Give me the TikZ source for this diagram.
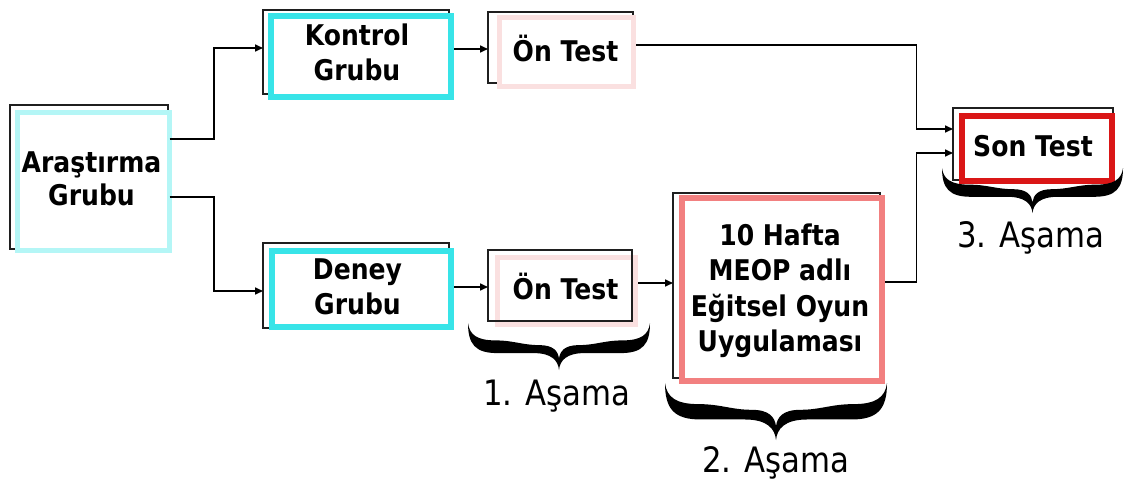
\documentclass[tikz,border=0pt]{standalone}
\usepackage{fontspec}
\setmainfont{DejaVu Sans}[FakeStretch=0.88]
\usetikzlibrary{arrows.meta,calc}

\definecolor{palecyan}{RGB}{180,246,246}
\definecolor{brightcyan}{RGB}{56,228,232}
\definecolor{palepink}{RGB}{250,224,224}
\definecolor{lightcoral}{RGB}{242,128,128}
\definecolor{strongred}{RGB}{218,22,22}

\tikzset{
  backbox/.style={draw=black!88, line width=1.3pt, fill=white, inner sep=0pt, outer sep=0pt},
  frontbox/.style={draw=#1, line width=5.5pt, fill=white, inner sep=0pt, outer sep=0pt},
  boxtext/.style={align=center, inner sep=0pt, font=\bfseries\fontsize{28.5}{35}\selectfont},
  conn/.style={line width=1.6pt, -{Triangle[length=8pt,width=7pt]}},
  stage/.style={font=\fontsize{35}{40}\selectfont, anchor=base, inner sep=0pt}
}

% filled curly brace opening downwards: x-left, x-right, top y, height
\newcommand\stagebrace[4]{%
  \pgfmathsetmacro\bxa{#1}\pgfmathsetmacro\bxb{#2}%
  \pgfmathsetmacro\byt{#3}\pgfmathsetmacro\bh{#4}%
  \pgfmathsetmacro\bw{\bxb-\bxa}\pgfmathsetmacro\bm{(\bxa+\bxb)/2}%
  \pgfmathsetmacro\byo{\byt+0.64*\bh}% lower edge of the arms
  \pgfmathsetmacro\byi{\byt+0.37*\bh}% upper edge near the curls
  \pgfmathsetmacro\byc{\byt+0.47*\bh}% upper edge near the middle
  \fill (\bxa,\byt)
    .. controls (\bxa,\byt+0.45*\bh) and (\bxa+0.04*\bw,\byo) .. (\bxa+0.16*\bw,\byo)
    -- (\bm-0.14*\bw,\byo)
    .. controls (\bm-0.04*\bw,\byo) and (\bm-0.005*\bw,\byt+0.8*\bh) .. (\bm,\byt+\bh)
    .. controls (\bm+0.005*\bw,\byt+0.8*\bh) and (\bm+0.04*\bw,\byo) .. (\bm+0.14*\bw,\byo)
    -- (\bxb-0.16*\bw,\byo)
    .. controls (\bxb-0.04*\bw,\byo) and (\bxb,\byt+0.45*\bh) .. (\bxb,\byt)
    .. controls (\bxb-0.008*\bw,\byt+0.25*\bh) and (\bxb-0.05*\bw,\byi) .. (\bxb-0.15*\bw,\byi)
    .. controls (\bxb-0.25*\bw,\byi) and (\bm+0.2*\bw,\byc) .. (\bm+0.11*\bw,\byc)
    .. controls (\bm+0.03*\bw,\byc) and (\bm+0.005*\bw,\byt+0.6*\bh) .. (\bm,\byt+0.76*\bh)
    .. controls (\bm-0.005*\bw,\byt+0.6*\bh) and (\bm-0.03*\bw,\byc) .. (\bm-0.11*\bw,\byc)
    .. controls (\bm-0.2*\bw,\byc) and (\bxa+0.25*\bw,\byi) .. (\bxa+0.15*\bw,\byi)
    .. controls (\bxa+0.05*\bw,\byi) and (\bxa+0.008*\bw,\byt+0.25*\bh) .. (\bxa,\byt)
    -- cycle;%
}

\begin{document}
\begin{tikzpicture}[x=1pt,y=-1pt]
\useasboundingbox (0,0) rectangle (1126,487);

% shadow frames behind each box
\node[backbox, minimum width=158pt, minimum height=144pt] (ab) at (89,177) {};
\node[backbox, minimum width=186pt, minimum height=84pt] (kb) at (356,52) {};
\node[backbox, minimum width=145pt, minimum height=71pt] (o1b) at (560.5,47.5) {};
\node[backbox, minimum width=186pt, minimum height=85pt] (db) at (356,285.5) {};
\node[backbox, minimum width=207pt, minimum height=185pt] (hb) at (776.5,285.5) {};
\node[backbox, minimum width=160pt, minimum height=72pt] (sb) at (1033,144) {};

% coloured boxes
\node[frontbox=palecyan, line width=5pt, minimum width=152pt, minimum height=138pt] (af) at (93.5,181.5) {};
\node[frontbox=brightcyan, line width=6pt, minimum width=180pt, minimum height=81pt] (kf) at (361,56.5) {};
\node[frontbox=palepink, line width=5pt, minimum width=134pt, minimum height=69pt] (o1f) at (566.5,52) {};
\node[frontbox=brightcyan, line width=6pt, minimum width=179pt, minimum height=76pt] (df) at (361.5,289) {};
\node[frontbox=palepink, line width=5pt, minimum width=138pt, minimum height=67pt] (o2f) at (566.5,291) {};
\node[frontbox=lightcoral, line width=6pt, minimum width=200pt, minimum height=183pt] (hf) at (782,289.5) {};
\node[frontbox=strongred, line width=6pt, minimum width=150pt, minimum height=65pt] (sf) at (1037,148.5) {};

% this frame shows through the lower pre-test box
\node[backbox, fill=none, minimum width=144pt, minimum height=71pt] (o2b) at (560,285.5) {};

% box texts
\node[boxtext, font=\bfseries\fontsize{28.5}{33}\selectfont] (at) at ($(af)+(-2,-3)$) {Araştırma\\Grubu};
\node[boxtext] (kt) at ($(kf)+(-4,-4)$) {Kontrol\\Grubu};
\node[boxtext] (o1t) at ($(o1f)+(-1,-4)$) {Ön Test};
\node[boxtext] (dt) at ($(df)+(-4,-2.5)$) {Deney\\Grubu};
\node[boxtext] (o2t) at ($(o2f)+(-1,-5)$) {Ön Test};
\node[boxtext, font=\bfseries\fontsize{28.5}{35.5}\selectfont] (ht) at ($(hf)+(-2,1)$) {10 Hafta\\MEOP adlı\\Eğitsel Oyun\\Uygulaması};
\node[boxtext] (st) at ($(sf)+(-4,-2)$) {Son Test};

% connectors
\draw[conn] ($(af.east)+(0,-42.5)$) -- ++(44.5,0) |- ($(kb.west)+(0,-4)$);
\draw[conn] ($(af.east)+(0,15.5)$) -- ++(44.5,0) |- ($(db.west)+(0,5.5)$);
\draw[conn] ($(kf.east)+(3,-7.5)$) -- ($(o1b.west)+(0,1.5)$);
\draw[conn] ($(df.east)+(3,-2)$) -- ($(o2b.west)+(0,1.5)$);
\draw[conn] ($(o1f.east)+(2.5,-7)$) -- ++(280.5,0) |- ($(sb.west)+(0,-15)$);
\draw[conn] ($(o2f.east)+(2.5,-8)$) -- ($(hb.west)+(0,-2.5)$);
\draw[conn] ($(hf.east)+(3,-7.5)$) -- ++(31.5,0) |- ($(sb.west)+(0,9)$);

% stage braces and labels
\stagebrace{468}{650}{323}{47}
\stagebrace{665}{887}{383}{57}
\stagebrace{942}{1123}{168}{45}
\node[stage] (s1) at (557,405) {1. Aşama};
\node[stage] (s2) at (776,472) {2. Aşama};
\node[stage] (s3) at (1031,247) {3. Aşama};
\end{tikzpicture}
\end{document}
